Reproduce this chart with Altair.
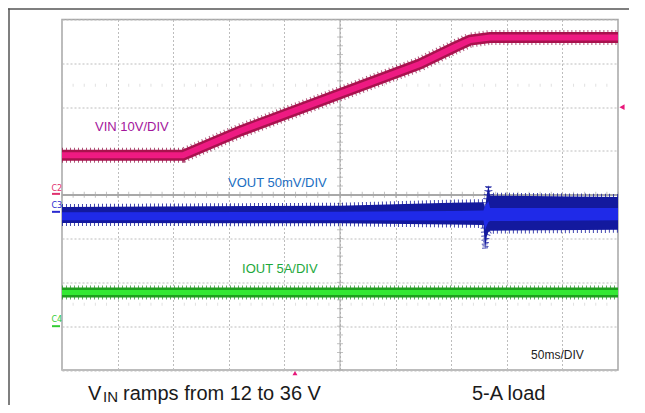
import altair as alt
import pandas as pd

# ---- data (time in ms, 50 ms/div; vertical in scope divisions) ----
vin_t = [0, 108.8, 160.1, 321.9, 353.4, 367.0, 384.9, 500]
vin_v = [0.90, 0.90, 1.455, 2.985, 3.373, 3.53, 3.59, 3.59]

vout_t = [0, 250, 350, 379, 380.5, 382, 383.5, 385, 500]
vout_lo = [-0.645, -0.65, -0.68, -0.69, -1.24, -0.95, -0.85, -0.82, -0.80]
vout_hi = [-0.28, -0.25, -0.18, -0.17, -0.30, 0.0, 0.22, -0.02, -0.05]
vout_in_lo = [-0.58, -0.58, -0.59, -0.59, -0.80, -0.70, -0.62, -0.60, -0.58]
vout_in_hi = [-0.40, -0.39, -0.37, -0.36, -0.25, -0.20, -0.15, -0.30, -0.30]

iout_t = [0, 500]
iout_v = [-2.23, -2.23]

lab_text = ["VIN 10V/DIV", "VOUT 50mV/DIV", "IOUT 5A/DIV", "50ms/DIV"]
lab_t = [29.7, 149.3, 161.9, 421.8]
lab_v = [1.55, 0.27, -1.70, -3.66]
lab_color = ["#a3169c", "#1b6ec2", "#1ea83c", "#222222"]
lab_size = [13, 13, 13, 12]

chl_text = ["C2", "C3", "C4"]
chl_t = [-9.5, -9.5, -9.5]
chl_v = [0.14, -0.25, -2.87]
chl_color = ["#e0306e", "#2a2ad0", "#33cc33"]

cap_text = ["V", "IN", "ramps from 12 to 36 V", "5-A load"]
cap_t = [23.4, 36.9, 54.9, 368.7]
cap_v = [-4.686, -4.73, -4.686, -4.686]
cap_size = [20, 15, 20, 20]

ch_name = ["C2", "C2", "C3", "C3", "C4", "C4"]
ch_t = [-9.0, -1.8, -9.0, -1.8, -9.0, -1.8]
ch_v = [0.02, 0.02, -0.39, -0.39, -3.0, -3.0]
ch_color = ["#e0306e", "#e0306e", "#2a2ad0", "#2a2ad0", "#33cc33", "#33cc33"]

# ---- scales / axes ----
xs = alt.Scale(domain=[0, 500], nice=False, zero=False)
ys = alt.Scale(domain=[-4, 4], nice=False, zero=False)
xaxis = alt.Axis(values=list(range(0, 501, 50)), grid=True, gridDash=[2, 2],
                 gridColor="#bdbdbd", labels=False, ticks=False, domain=False, title=None)
yaxis = alt.Axis(values=list(range(-4, 5)), grid=True, gridDash=[2, 2],
                 gridColor="#bdbdbd", labels=False, ticks=False, domain=False, title=None)


def X(f):
    return alt.X(f"{f}:Q", scale=xs, axis=xaxis)


def Y(f):
    return alt.Y(f"{f}:Q", scale=ys, axis=yaxis)


vin = pd.DataFrame({"t": vin_t, "v": vin_v})
vout = pd.DataFrame({"t": vout_t, "lo": vout_lo, "hi": vout_hi,
                     "ilo": vout_in_lo, "ihi": vout_in_hi})
iout = pd.DataFrame({"t": iout_t, "v": iout_v})

# center cross with minor ticks
minor_x = pd.DataFrame({"t": [i * 10 for i in range(51)], "v": [0] * 51})
minor_y = pd.DataFrame({"t": [250] * 41, "v": [-4 + i * 0.2 for i in range(41)]})
faint = pd.DataFrame({"t": [i * 10 for i in range(51) if i % 5] * 2,
                      "v": [2.5] * 40 + [-2.5] * 40})

layers = []
layers.append(alt.Chart(minor_x).mark_rule(color="#a8a8a8", strokeWidth=1).encode(
    x=alt.value(0), x2=alt.value(556), y=Y("v")))
layers.append(alt.Chart(minor_x).mark_rule(color="#a8a8a8", strokeWidth=1).encode(
    x=X("t"), y=alt.value(0), y2=alt.value(350.5)).transform_filter("datum.t == 250"))
layers.append(alt.Chart(minor_x).mark_tick(orient="vertical", size=6, thickness=1,
                                            color="#a8a8a8").encode(x=X("t"), y=Y("v")))
layers.append(alt.Chart(minor_y).mark_tick(orient="horizontal", size=6, thickness=1,
                                            color="#a8a8a8").encode(x=X("t"), y=Y("v")))
layers.append(alt.Chart(faint).mark_tick(orient="vertical", size=3, thickness=1,
                                          color="#d4d4d4").encode(x=X("t"), y=Y("v")))

# VIN trace
layers.append(alt.Chart(vin).mark_line(color="#8e0d42", strokeWidth=15, strokeDash=[1, 3],
                                       opacity=0.7).encode(x=X("t"), y=Y("v")))
layers.append(alt.Chart(vin).mark_line(color="#a8124e", strokeWidth=11).encode(x=X("t"), y=Y("v")))
layers.append(alt.Chart(vin).mark_line(color="#ee1a82", strokeWidth=6).encode(x=X("t"), y=Y("v")))

# VOUT trace
layers.append(alt.Chart(vout).mark_line(color="#13199e", strokeWidth=6, strokeDash=[1, 3],
                                        opacity=0.8).encode(x=X("t"), y=Y("hi")))
layers.append(alt.Chart(vout).mark_line(color="#13199e", strokeWidth=6, strokeDash=[1, 3],
                                        opacity=0.8).encode(x=X("t"), y=Y("lo")))
layers.append(alt.Chart(vout).mark_area(color="#13199e").encode(
    x=X("t"), y=Y("lo"), y2=alt.Y2("hi")))
layers.append(alt.Chart(vout).mark_area(color="#1f2ae8").encode(
    x=X("t"), y=Y("ilo"), y2=alt.Y2("ihi")))

# IOUT trace
layers.append(alt.Chart(iout).mark_line(color="#1e8c1e", strokeWidth=14, strokeDash=[1, 3],
                                        opacity=0.7).encode(x=X("t"), y=Y("v")))
layers.append(alt.Chart(iout).mark_line(color="#1f9e1f", strokeWidth=10).encode(x=X("t"), y=Y("v")))
layers.append(alt.Chart(iout).mark_line(color="#33e833", strokeWidth=5).encode(x=X("t"), y=Y("v")))

# markers
layers.append(alt.Chart(pd.DataFrame({"t": [503.6], "v": [2.0]})).mark_point(
    shape="triangle-left", filled=True, size=35, color="#e8177a", opacity=1).encode(x=X("t"), y=Y("v")))
layers.append(alt.Chart(pd.DataFrame({"t": [209.5], "v": [-4.07]})).mark_point(
    shape="triangle-up", filled=True, size=25, color="#e8177a", opacity=1).encode(x=X("t"), y=Y("v")))

# channel markers
chdf = pd.DataFrame({"t": ch_t, "v": ch_v, "n": ch_name, "c": ch_color})
layers.append(alt.Chart(chdf).mark_line(strokeWidth=2).encode(
    x=X("t"), y=Y("v"), detail="n:N", color=alt.Color("c:N", scale=None)))
chl = pd.DataFrame({"t": chl_t, "v": chl_v, "text": chl_text, "c": chl_color})
layers.append(alt.Chart(chl).mark_text(align="left", baseline="middle", fontSize=8,
                                       font="DejaVu Sans").encode(
    x=X("t"), y=Y("v"), text="text:N", color=alt.Color("c:N", scale=None)))

# labels
labdf = pd.DataFrame({"t": lab_t, "v": lab_v, "text": lab_text, "c": lab_color, "s": lab_size})
layers.append(alt.Chart(labdf).mark_text(align="left", baseline="middle",
                                         font="Liberation Sans").encode(
    x=X("t"), y=Y("v"), text="text:N", color=alt.Color("c:N", scale=None),
    size=alt.Size("s:Q", scale=None)))

capdf = pd.DataFrame({"t": cap_t, "v": cap_v, "text": cap_text, "s": cap_size})
layers.append(alt.Chart(capdf).mark_text(align="left", baseline="alphabetic",
                                         font="Liberation Sans", color="#1a1a1a").encode(
    x=X("t"), y=Y("v"), text="text:N", size=alt.Size("s:Q", scale=None)))

# outer frame lines
one = pd.DataFrame({"a": [0]})
layers.append(alt.Chart(one).mark_rule(color="#555555", strokeWidth=1.5).encode(
    x=alt.value(-54), x2=alt.value(567), y=alt.value(-10.5)))
layers.append(alt.Chart(one).mark_rule(color="#555555", strokeWidth=1.5).encode(
    x=alt.value(-53), y=alt.value(-11), y2=alt.value(386)))

chart = alt.layer(*layers).properties(
    width=556, height=350.5,
    padding={"left": 54, "top": 11.5, "right": 11, "bottom": 35},
    autosize=alt.AutoSizeParams(type="none"),
    background="white",
).configure_view(stroke="#a6a6a6", strokeWidth=1.5)

chart.save("out.html", embed_options={"renderer": "svg", "actions": False})
